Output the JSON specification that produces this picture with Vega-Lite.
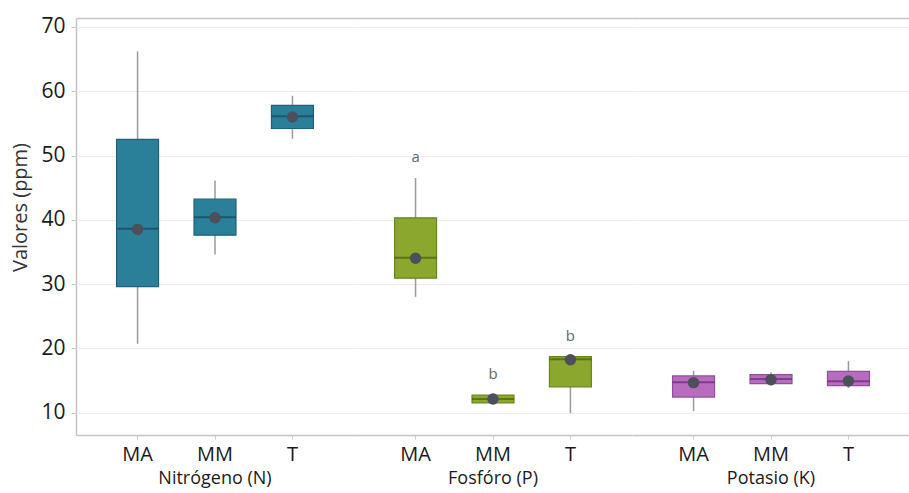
{
  "$schema": "https://vega.github.io/schema/vega-lite/v6.json",
  "autosize": {"type": "pad"},
  "padding": {"left": 10, "top": 15, "right": 0, "bottom": 0},
  "background": "white",
  "config": {
    "font": "Open Sans",
    "view": {"stroke": null},
    "axis": {"labelFont": "Open Sans", "titleFont": "Open Sans"}
  },
  "data": {
    "values": [
      {"grupo": "Nitrógeno (N)", "trat": "MA", "min": 20.7, "q1": 29.6, "med": 38.6, "q3": 52.5, "max": 66.2, "media": 38.5, "letra": ""},
      {"grupo": "Nitrógeno (N)", "trat": "MM", "min": 34.6, "q1": 37.6, "med": 40.4, "q3": 43.2, "max": 46.1, "media": 40.3, "letra": ""},
      {"grupo": "Nitrógeno (N)", "trat": "T", "min": 52.6, "q1": 54.2, "med": 56.1, "q3": 57.8, "max": 59.3, "media": 56.0, "letra": ""},
      {"grupo": "Fosfóro (P)", "trat": "MA", "min": 28.0, "q1": 30.9, "med": 34.1, "q3": 40.3, "max": 46.5, "media": 34.0, "letra": "a"},
      {"grupo": "Fosfóro (P)", "trat": "MM", "min": 11.5, "q1": 11.5, "med": 12.1, "q3": 12.7, "max": 12.7, "media": 12.1, "letra": "b"},
      {"grupo": "Fosfóro (P)", "trat": "T", "min": 9.9, "q1": 14.0, "med": 18.3, "q3": 18.7, "max": 18.7, "media": 18.2, "letra": "b"},
      {"grupo": "Potasio (K)", "trat": "MA", "min": 10.2, "q1": 12.4, "med": 14.7, "q3": 15.7, "max": 16.5, "media": 14.65, "letra": ""},
      {"grupo": "Potasio (K)", "trat": "MM", "min": 14.2, "q1": 14.5, "med": 15.2, "q3": 15.9, "max": 16.25, "media": 15.1, "letra": ""},
      {"grupo": "Potasio (K)", "trat": "T", "min": 13.8, "q1": 14.2, "med": 14.85, "q3": 16.4, "max": 18.0, "media": 14.9, "letra": ""}
    ]
  },
  "facet": {
    "column": {
      "field": "grupo",
      "type": "nominal",
      "sort": ["Nitrógeno (N)", "Fosfóro (P)", "Potasio (K)"],
      "header": {
        "title": null,
        "labelOrient": "bottom",
        "labelFont": "Open Sans",
        "labelFontSize": 18,
        "labelColor": "#1a1a1a",
        "labelPadding": 6
      }
    }
  },
  "spacing": 0,
  "spec": {
    "width": 278,
    "height": 417,
    "encoding": {
      "x": {
        "field": "trat",
        "type": "nominal",
        "sort": ["MA", "MM", "T"],
        "scale": {"type": "band", "paddingInner": 0.458, "paddingOuter": 0.524}
      }
    },
    "resolve": {"axis": {"x": "independent"}},
    "layer": [
      {
        "mark": {"type": "rule", "color": "#9a9a9a", "strokeWidth": 1.5},
        "encoding": {
          "x": {
            "field": "trat", "type": "nominal", "sort": ["MA", "MM", "T"],
            "axis": {
              "orient": "bottom", "title": null, "grid": false, "bandPosition": 0.5,
              "labelAngle": 0, "labelFontSize": 20, "labelColor": "#1a1a1a", "labelPadding": 5,
              "domainColor": "#c4c4c4", "domainWidth": 1.5, "tickColor": "#cccccc", "tickSize": 4
            }
          },
          "y": {
            "field": "min", "type": "quantitative",
            "scale": {"domain": [6.5, 71.4], "nice": false, "zero": false},
            "axis": {
              "values": [10, 20, 30, 40, 50, 60, 70],
              "title": "Valores (ppm)", "titleFontSize": 20, "titleFontWeight": "normal", "titleColor": "#333333",
              "titlePadding": 10, "titleY": 189,
              "labelFontSize": 21, "labelColor": "#1a1a1a", "labelPadding": 6,
              "grid": true, "gridColor": "#ececec", "gridWidth": 1,
              "domainColor": "#c4c4c4", "domainWidth": 1.5, "tickColor": "#c4c4c4", "tickSize": 5
            }
          },
          "y2": {"field": "max"}
        }
      },
      {
        "mark": {"type": "bar", "strokeWidth": 1.2},
        "encoding": {
          "x": {
            "field": "trat", "type": "nominal", "sort": ["MA", "MM", "T"],
            "axis": {"orient": "top", "title": null, "labels": false, "ticks": false, "grid": false, "domain": true, "domainColor": "#c4c4c4", "domainWidth": 1.5}
          },
          "y": {"field": "q1", "type": "quantitative"},
          "y2": {"field": "q3"},
          "fill": {
            "field": "grupo", "type": "nominal", "legend": null,
            "scale": {"domain": ["Nitrógeno (N)", "Fosfóro (P)", "Potasio (K)"], "range": ["#2a7f99", "#8ba72e", "#b86cc0"]}
          },
          "stroke": {
            "field": "grupo", "type": "nominal", "legend": null,
            "scale": {"domain": ["Nitrógeno (N)", "Fosfóro (P)", "Potasio (K)"], "range": ["#1f6278", "#6a8420", "#8f4f96"]}
          }
        }
      },
      {
        "mark": {"type": "tick", "size": 42, "thickness": 2, "orient": "horizontal"},
        "encoding": {
          "x": {"field": "trat", "type": "nominal", "sort": ["MA", "MM", "T"], "axis": null},
          "y": {"field": "med", "type": "quantitative"},
          "color": {
            "field": "grupo", "type": "nominal", "legend": null,
            "scale": {"domain": ["Nitrógeno (N)", "Fosfóro (P)", "Potasio (K)"], "range": ["#17465a", "#465e0e", "#6a2a72"]}
          }
        }
      },
      {
        "mark": {"type": "point", "filled": true, "size": 130, "opacity": 1, "color": "#4d4f5a"},
        "encoding": {
          "x": {"field": "trat", "type": "nominal", "sort": ["MA", "MM", "T"], "axis": null},
          "y": {"field": "media", "type": "quantitative"}
        }
      },
      {
        "mark": {"type": "text", "dy": -21, "fontSize": 15, "color": "#666666", "baseline": "middle"},
        "encoding": {
          "x": {"field": "trat", "type": "nominal", "sort": ["MA", "MM", "T"], "axis": null},
          "y": {"field": "max", "type": "quantitative"},
          "text": {"field": "letra"}
        }
      }
    ]
  }
}
